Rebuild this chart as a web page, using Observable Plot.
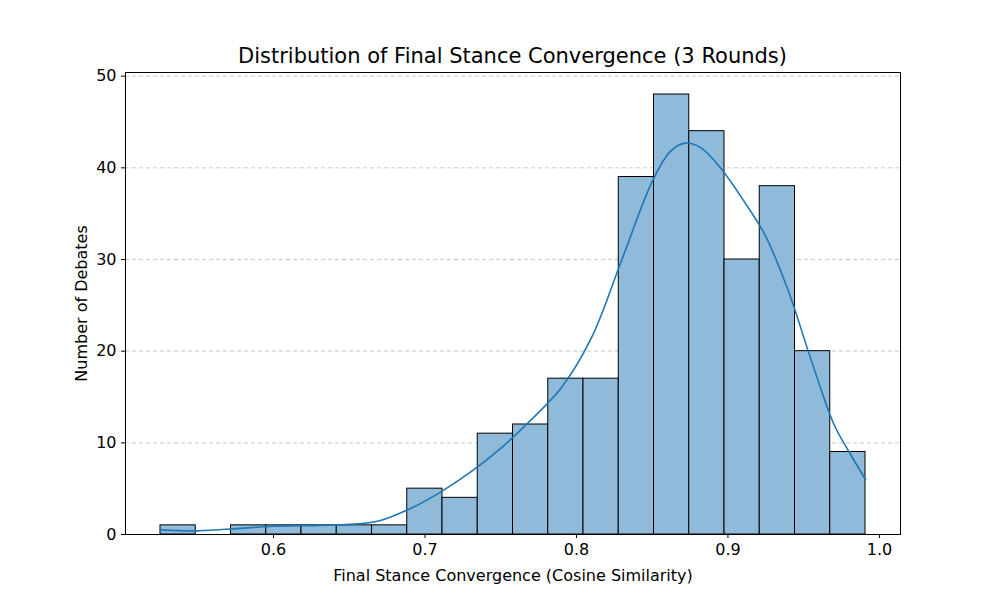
<!DOCTYPE html>
<html><head><meta charset="utf-8">
<script src="https://cdn.jsdelivr.net/npm/d3@7"></script>
<script src="https://cdn.jsdelivr.net/npm/@observablehq/plot@0.6"></script>
<style>
body{margin:0;background:#fff;font-family:"DejaVu Sans",sans-serif;}
#wrap{position:relative;width:1000px;height:600px;}
#title{position:absolute;top:44px;left:125px;width:775px;text-align:center;font-size:21px;color:#000;}
#chart{position:absolute;top:0;left:0;}
</style></head><body>
<div id="wrap"><div id="chart"></div><div id="title">Distribution of Final Stance Convergence (3 Rounds)</div></div>
<script>
"use strict";
const binMin = 0.5254, binMax = 0.9908;
const counts = [1,0,1,1,1,1,1,5,4,11,12,17,17,39,48,44,30,38,20,9];
const kdeX = [0.5254,0.55,0.58,0.6,0.63,0.65,0.67,0.69,0.71,0.73,0.75,0.77,0.79,0.81,0.83,0.85,0.862,0.872,0.882,0.895,0.91,0.925,0.94,0.955,0.97,0.98,0.9908];
const kdeY = [0.5,0.4,0.7,0.9,1.0,1.1,1.5,2.8,4.6,6.8,9.4,12.5,16,21.5,30,38.5,41.8,42.7,42.2,40,36.5,32.5,26.5,19,12,9,6];
const yTicks = [0,10,20,30,40,50];
const xTicks = [0.6,0.7,0.8,0.9,1.0];

const w = (binMax - binMin) / counts.length;
const bins = counts.map((c, i) => ({x1: binMin + i * w, x2: binMin + (i + 1) * w, c}));
const kde = kdeX.map((x, i) => ({x, y: kdeY[i]}));

const node = Plot.plot({
  width: 1000, height: 600,
  marginLeft: 125, marginRight: 100, marginTop: 72, marginBottom: 66,
  style: {fontFamily: "DejaVu Sans, sans-serif", fontSize: "13px", color: "#000", background: "#fff"},
  x: {domain: [0.5023, 1.0139], ticks: xTicks, tickFormat: d3.format(".1f"), tickSize: 4,
      label: "Final Stance Convergence (Cosine Similarity)", labelAnchor: "center", labelArrow: "none", labelOffset: 46},
  y: {domain: [0, 50.4], ticks: yTicks, tickSize: 4,
      label: "Number of Debates", labelAnchor: "center", labelArrow: "none", labelOffset: 50},
  marks: [
    Plot.gridY(yTicks, {stroke: "#b0b0b0", strokeOpacity: 0.7, strokeDasharray: "4 3"}),
    Plot.rectY(bins, {x1: "x1", x2: "x2", y: "c", fill: "#8fbad9", stroke: "#000", strokeWidth: 1}),
    Plot.line(kde, {x: "x", y: "y", stroke: "#1f77b4", strokeWidth: 1.6, curve: "catmull-rom"}),
    Plot.frame({stroke: "#000"}),
  ],
});
node.querySelectorAll('[aria-label$="axis label"] text, g[aria-label*="label"] text').forEach(t => t.style.fontSize = "16px");
document.getElementById("chart").appendChild(node);
</script></body></html>
